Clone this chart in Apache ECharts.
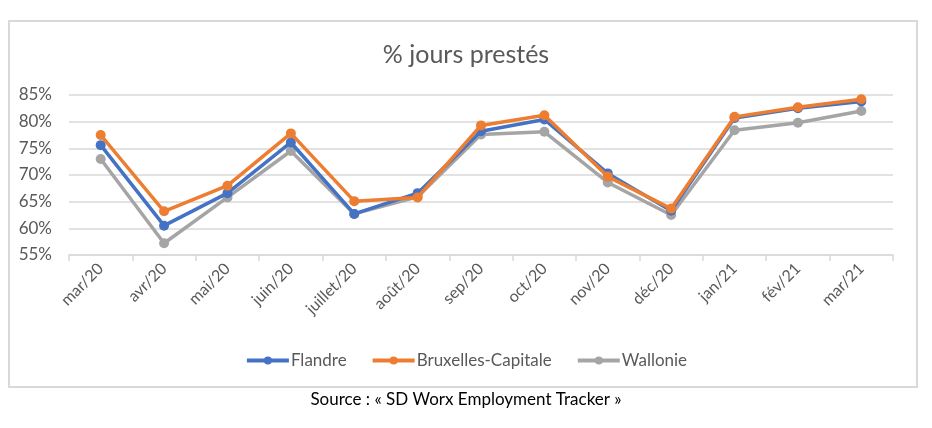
<!DOCTYPE html>
<html><head><meta charset="utf-8">
<script src="https://cdn.jsdelivr.net/npm/echarts@6/dist/echarts.min.js"></script>
<style>html,body{margin:0;padding:0;background:#fff}#c{width:932px;height:428px}</style>
</head><body><div id="c"></div>
<script>
const categories = ['mar/20','avr/20','mai/20','juin/20','juillet/20','août/20','sep/20','oct/20','nov/20','déc/20','jan/21','fév/21','mar/21'];
const flandre = [75.6, 60.5, 66.6, 76.1, 62.7, 66.6, 78.2, 80.4, 70.3, 63.3, 80.7, 82.5, 83.8];
const bruxelles = [77.5, 63.2, 68.0, 77.8, 65.1, 65.8, 79.3, 81.2, 69.7, 63.7, 80.9, 82.7, 84.2];
const wallonie = [73.0, 57.2, 65.8, 74.5, 62.7, 65.9, 77.6, 78.1, 68.6, 62.5, 78.4, 79.8, 82.0];
const yTicks = [55, 60, 65, 70, 75, 80, 85];
const seriesNames = ['Flandre', 'Bruxelles-Capitale', 'Wallonie'];
const colors = ['#4472C4', '#ED7D31', '#A5A5A5'];
const titleText = '% jours prestés';
const sourceText = 'Source : « SD Worx Employment Tracker »';

const FONT = 'Lato';
const chart = echarts.init(document.getElementById('c'), null, {renderer: 'canvas'});
const mk = (name, data, color, z) => ({
  name, type: 'line', data, z,
  symbol: 'circle', symbolSize: 10,
  lineStyle: {width: 3.5, color},
  itemStyle: {color},
  emphasis: {disabled: true}
});
chart.setOption({
  animation: false,
  textStyle: {fontFamily: FONT},
  title: {
    text: titleText, left: 'center', top: 37,
    textStyle: {fontFamily: FONT, fontSize: 25, fontWeight: 'normal', color: '#595959'}
  },
  graphic: [
    {type: 'rect', shape: {x: 9, y: 21, width: 908, height: 366},
     style: {fill: 'none', stroke: '#d9d9d9', lineWidth: 2}, z: -1},
    {type: 'text', left: 'center', top: 391,
     style: {text: sourceText, font: '17px ' + FONT, fill: '#000'}}
  ],
  legend: {
    data: seriesNames, top: 347, left: 'center',
    itemWidth: 42, itemHeight: 10, itemGap: 24,
    lineStyle: {width: 4},
    textStyle: {fontFamily: FONT, fontSize: 17, color: '#595959', padding: [0,0,0,-3]}
  },
  grid: {left: 69, right: 39, top: 95, bottom: 173},
  xAxis: {
    type: 'category', data: categories, boundaryGap: true,
    axisLine: {lineStyle: {color: '#d9d9d9', width: 1.5}},
    axisTick: {show: true, length: 6, lineStyle: {color: '#d9d9d9', width: 1.5}},
    axisLabel: {rotate: 45, interval: 0, margin: 11, fontFamily: FONT, fontSize: 16, color: '#595959'}
  },
  yAxis: {
    type: 'value', min: yTicks[0], max: yTicks[yTicks.length-1], interval: 5,
    axisLine: {show: false}, axisTick: {show: false},
    splitLine: {lineStyle: {color: '#d9d9d9', width: 1.5}},
    axisLabel: {formatter: v => v + '%', margin: 17, fontFamily: FONT, fontSize: 17, color: '#595959'}
  },
  series: [
    mk(seriesNames[2], wallonie, colors[2], 2),
    mk(seriesNames[0], flandre, colors[0], 3),
    mk(seriesNames[1], bruxelles, colors[1], 4)
  ]
});
</script></body></html>
